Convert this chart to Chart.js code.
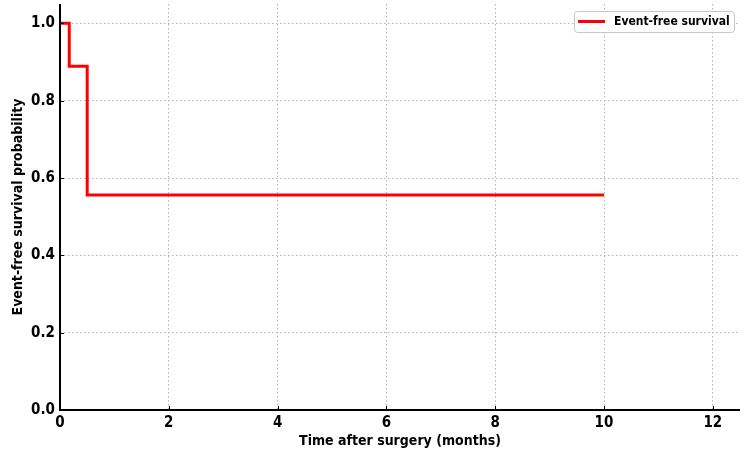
<!DOCTYPE html>
<html><head><meta charset="utf-8">
<script src="https://cdn.jsdelivr.net/npm/chart.js@4.4.1/dist/chart.umd.min.js"></script>
<style>html,body{margin:0;padding:0;background:#fff}</style>
</head><body>
<canvas id="c" width="750" height="459"></canvas>
<script>
const timeMonths = [0, 0.17, 0.5, 10];
const survival = [1.0, 0.889, 0.556, 0.556];
const seriesLabel = 'Event-free survival';
const xTickValues = [0, 2, 4, 6, 8, 10, 12];
const yTickValues = [0, 0.2, 0.4, 0.6, 0.8, 1.0];
const xTitle = 'Time after surgery (months)';
const yTitle = 'Event-free survival probability';

const FONT = 'DejaVu Sans Condensed';
const points = timeMonths.map((t, i) => ({x: t, y: survival[i]}));

const axesAndLegend = {
  id: 'axesAndLegend',
  afterDraw(chart) {
    const ctx = chart.ctx;
    const a = chart.chartArea;
    const xs = chart.scales.x, ys = chart.scales.y;
    ctx.save();
    // inward tick marks
    ctx.strokeStyle = '#000';
    ctx.lineWidth = 1;
    ctx.beginPath();
    xTickValues.forEach(v => {
      const px = Math.round(xs.getPixelForValue(v)) + 0.5;
      ctx.moveTo(px, a.bottom);
      ctx.lineTo(px, a.bottom - 4);
    });
    yTickValues.forEach(v => {
      const py = Math.round(ys.getPixelForValue(v)) + 0.5;
      ctx.moveTo(a.left, py);
      ctx.lineTo(a.left + 4, py);
    });
    ctx.stroke();
    // axis spines (left and bottom)
    ctx.lineWidth = 2;
    ctx.beginPath();
    ctx.moveTo(a.left, a.top);
    ctx.lineTo(a.left, a.bottom);
    ctx.lineTo(a.right, a.bottom);
    ctx.stroke();
    // legend box
    const x = 574, y = 11, w = 160, h = 21, r = 3;
    ctx.beginPath();
    ctx.roundRect(x + 0.5, y + 0.5, w, h, r);
    ctx.fillStyle = 'rgba(255,255,255,0.9)';
    ctx.fill();
    ctx.strokeStyle = '#c8c8c8';
    ctx.lineWidth = 1;
    ctx.stroke();
    ctx.beginPath();
    ctx.moveTo(578, 21.5);
    ctx.lineTo(605, 21.5);
    ctx.strokeStyle = '#ff0000';
    ctx.lineWidth = 3;
    ctx.stroke();
    ctx.fillStyle = '#000';
    ctx.font = 'bold 12px "' + FONT + '"';
    ctx.textBaseline = 'middle';
    ctx.textAlign = 'left';
    ctx.fillText(seriesLabel, 614, 21.5);
    ctx.restore();
  }
};

const gridOpts = {
  color: '#b4b4b4',
  lineWidth: 1,
  tickLength: -5,
  tickColor: 'rgba(0,0,0,0)',
  tickWidth: 1,
  tickBorderDash: []
};

new Chart(document.getElementById('c'), {
  type: 'scatter',
  data: {
    datasets: [{
      label: seriesLabel,
      data: points,
      showLine: true,
      stepped: 'before',
      borderColor: '#ff0000',
      backgroundColor: '#ff0000',
      borderWidth: 3,
      pointRadius: 0,
      fill: false
    }]
  },
  options: {
    responsive: false,
    animation: false,
    layout: {padding: {top: 4, right: 10, left: 0, bottom: 0}},
    plugins: {legend: {display: false}, tooltip: {enabled: false}},
    scales: {
      x: {
        type: 'linear',
        min: 0, max: 12.5,
        afterFit(s) { s.height = 49; s.paddingLeft = 0; s.paddingRight = 0; },
        afterBuildTicks(s) { s.ticks = xTickValues.map(v => ({value: v})); },
        ticks: {
          includeBounds: false,
          color: '#000',
          font: {family: FONT, weight: 'bold', size: 15},
          padding: 9,
          callback: v => String(v)
        },
        grid: gridOpts,
        border: {display: false, dash: [1.5, 2.5]},
        title: {
          display: true, text: xTitle, color: '#000',
          font: {family: FONT, weight: 'bold', size: 14},
          padding: {top: 0, bottom: 9}
        }
      },
      y: {
        type: 'linear',
        min: 0, max: 1.05,
        afterFit(s) { s.width = 60; s.paddingTop = 0; s.paddingBottom = 0; },
        afterBuildTicks(s) { s.ticks = yTickValues.map(v => ({value: v})); },
        ticks: {
          includeBounds: false,
          color: '#000',
          font: {family: FONT, weight: 'bold', size: 15},
          padding: 10,
          callback: v => Number(v).toFixed(1)
        },
        grid: gridOpts,
        border: {display: false, dash: [1.5, 2.5]},
        title: {
          display: true, text: yTitle, color: '#000',
          font: {family: FONT, weight: 'bold', size: 14},
          padding: {top: 10, bottom: 2}
        }
      }
    }
  },
  plugins: [axesAndLegend]
});
</script>
</body></html>
